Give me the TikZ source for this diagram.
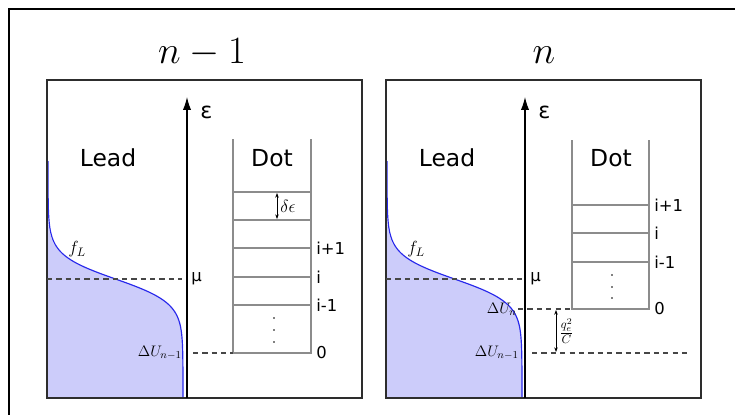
\RequirePackage{fix-cm}
\documentclass[tikz,border=0pt]{standalone}
\usepackage{fontspec}
\setmainfont{DejaVu Sans}
\usepackage{amsmath}
\usepackage{tikz}
\usetikzlibrary{arrows.meta, positioning, calc}
\definecolor{myblue}{RGB}{40,40,235}
\definecolor{myfill}{RGB}{204,204,250}
\definecolor{myframe}{RGB}{45,45,45}
\definecolor{mylevel}{RGB}{140,140,140}
\definecolor{mydash}{RGB}{70,70,70}
\tikzset{
  outer/.style={draw=black, line width=1.3pt},
  panel/.style={draw=myframe, line width=1.2pt},
  eaxis/.style={-{Latex[length=11pt, width=7pt]}, line width=0.9pt, color=black},
  level/.style={draw=mylevel, line width=0.9pt},
  guide/.style={draw=mydash, line width=1pt, dash pattern=on 4.5pt off 3.5pt},
  gaparrow/.style={{Stealth[length=4pt, width=3pt]}-{Stealth[length=4pt, width=3pt]}, line width=0.6pt},
  fermi/.style={draw=myblue, line width=1pt},
  title/.style={font=\fontsize{33}{40}\selectfont, anchor=base},
  region/.style={font=\fontsize{20}{24}\selectfont, anchor=base},
  elabel/.style={font=\fontsize{19}{22}\selectfont, anchor=west, inner sep=1pt},
  lvl/.style={font=\fontsize{14}{16}\selectfont, anchor=west, inner sep=1pt},
  mlabel/.style={font=\fontsize{13}{15}\selectfont, inner sep=1pt},
  flabel/.style={font=\fontsize{15}{17}\selectfont, inner sep=1pt},
  tick/.style={circle, fill=black, inner sep=0pt, minimum size=1.6pt}
}

\begin{document}
\begin{tikzpicture}[x=0.3mm, y=-0.3mm]
  \useasboundingbox (0,0) rectangle (735,414);
  \clip (0,0) rectangle (735,414);
  % outer frame, only top and left edge inside the page
  \draw[outer] (9,9) rectangle (760,440);

  % ---------- left panel: n-1 ----------
  \node[title] (t1) at (202,64) {$n-1$};
  % lead occupation
  \fill[myfill] (47,161) -- plot[domain=175:398, samples=120, variable=\t]
    ({47+136/(1+exp(-(\t-279)/12))}, \t) -- (47,398) -- cycle;
  \draw[fermi] (48,161) -- plot[domain=175:398, samples=120, variable=\t]
    ({48+135/(1+exp(-(\t-279)/12))}, \t);
  \draw[panel] (47,80) rectangle (362,398);
  \node[region] (lead1) at (108,166) {Lead};
  \node[flabel] (fl1) at (77,249) {$f_L$};
  % energy axis
  \coordinate (ab1) at (187,398);
  \coordinate (at1) at (187,97);
  \draw[eaxis] (ab1) -- (at1);
  \node[elabel] (eps1) at (199,112) {ε};
  % chemical potential
  \coordinate (m1) at (47,279);
  \node[lvl] (mu1) at (190,279) {μ};
  \draw[guide] (m1) -- (182,279);
  % dot levels
  \coordinate (dtl1) at (233,139);
  \coordinate (dtr1) at (311,139);
  \coordinate (dbl1) at (233,353);
  \coordinate (dbr1) at (311,353);
  \draw[level] (dtl1) -- (dbl1) -- (dbr1) -- (dtr1);
  \draw[level] (233,192) -- (311,192);
  \draw[level] (233,220) -- (311,220);
  \draw[level] (233,248) -- (311,248);
  \draw[level] (233,277) -- (311,277);
  \draw[level] (233,305) -- (311,305);
  \node[region] (dot1) at (272,166) {Dot};
  \node[lvl] (ip1) at (315,248) {i+1};
  \node[lvl] (i1) at (315,277) {i};
  \node[lvl] (im1) at (315,305) {i-1};
  \node[lvl] (z1) at (315,353) {0};
  \node[tick] at (274,318) {};
  \node[tick] at (274,330) {};
  \node[tick] at (274,342) {};
  % level spacing
  \coordinate (da1) at (277,193);
  \coordinate (db1) at (277,219);
  \draw[gaparrow] (da1) -- (db1);
  \node[flabel, anchor=west] (de1) at (279,206) {$\delta\epsilon$};
  % charging energy n-1
  \node[mlabel, anchor=east] (du1) at (183,353) {$\Delta U_{n-1}$};
  \draw[guide] (193,353) -- (dbl1);

  % ---------- right panel: n ----------
  \begin{scope}[shift={(339,0)}]
  \node[title] (t2) at (205,64) {$n$};
  % lead occupation
  \fill[myfill] (47,161) -- plot[domain=175:398, samples=120, variable=\t]
    ({47+136/(1+exp(-(\t-279)/12))}, \t) -- (47,398) -- cycle;
  \draw[fermi] (48,161) -- plot[domain=175:398, samples=120, variable=\t]
    ({48+135/(1+exp(-(\t-279)/12))}, \t);
  \draw[panel] (47,80) rectangle (362,398);
  \node[region] (lead2) at (108,166) {Lead};
  \node[flabel] (fl2) at (77,249) {$f_L$};
  % energy axis
  \coordinate (ab2) at (186,398);
  \coordinate (at2) at (186,97);
  \draw[eaxis] (ab2) -- (at2);
  \node[elabel] (eps2) at (198,112) {ε};
  % chemical potential
  \coordinate (m2) at (47,279);
  \node[lvl] (mu2) at (190,279) {μ};
  \draw[guide] (m2) -- (186,279);
  % dot levels, shifted up by the charging energy
  \coordinate (dtl2) at (233,140);
  \coordinate (dtr2) at (310,140);
  \coordinate (dbl2) at (233,309);
  \coordinate (dbr2) at (310,309);
  \draw[level] (dtl2) -- (dbl2) -- (dbr2) -- (dtr2);
  \draw[level] (233,205) -- (310,205);
  \draw[level] (233,233) -- (310,233);
  \draw[level] (233,262) -- (310,262);
  \node[region] (dot2) at (272,166) {Dot};
  \node[lvl] (ip2) at (314,205) {i+1};
  \node[lvl] (i2) at (314,233) {i};
  \node[lvl] (im2) at (314,262) {i-1};
  \node[lvl] (z2) at (314,309) {0};
  \node[tick] at (273,275) {};
  \node[tick] at (273,287) {};
  \node[tick] at (273,298) {};
  % charging energies
  \node[mlabel, anchor=east] (dun2) at (179,309) {$\Delta U_n$};
  \draw[guide] (179,309) -- (dbl2);
  \node[mlabel, anchor=east] (du2) at (181,353) {$\Delta U_{n-1}$};
  \coordinate (ge) at (348,353);
  \draw[guide] (193,353) -- (ge);
  \coordinate (ca) at (217,310);
  \coordinate (cb) at (217,352);
  \draw[gaparrow] (ca) -- (cb);
  \node[flabel, anchor=west] (qc) at (219,331) {$\frac{q_e^2}{C}$};
  \end{scope}
\end{tikzpicture}
\end{document}
